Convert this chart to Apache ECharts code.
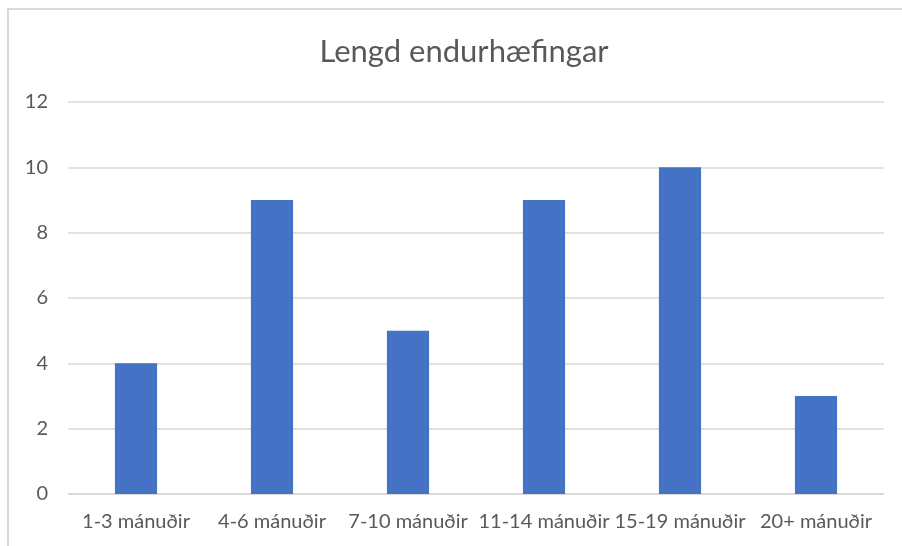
<!DOCTYPE html>
<html>
<head>
<meta charset="utf-8">
<script src="https://cdn.jsdelivr.net/npm/echarts@6/dist/echarts.min.js"></script>
<style>
  html, body { margin: 0; padding: 0; background: #fff; }
  #chart { width: 902px; height: 546px; }
</style>
</head>
<body>
<div id="chart"></div>
<script>
// gögn úr myndinni
var categories = ["1-3 mánuðir", "4-6 mánuðir", "7-10 mánuðir", "11-14 mánuðir", "15-19 mánuðir", "20+ mánuðir"];
var values = [4, 9, 5, 9, 10, 3];
var titleText = "Lengd endurhæfingar";

var chart = echarts.init(document.getElementById("chart"));
var font = "Lato, 'Open Sans', sans-serif";

chart.setOption({
  animation: false,
  // ytri rammi, nær út fyrir myndina til hægri og niður
  graphic: [{
    type: "rect",
    shape: { x: 8, y: 9, width: 1000, height: 600 },
    style: { fill: "none", stroke: "#d9d9d9", lineWidth: 2 },
    silent: true
  }],
  title: {
    text: titleText,
    left: 459,
    top: 31,
    textAlign: "center",
    textStyle: { color: "#595959", fontSize: 31, fontWeight: "normal", fontFamily: font }
  },
  grid: { left: 68, right: 18, top: 102, bottom: 52 },
  xAxis: {
    type: "category",
    data: categories,
    axisLine: { lineStyle: { color: "#d9d9d9", width: 1.5 } },
    axisTick: { show: false },
    axisLabel: { color: "#595959", fontSize: 20, fontFamily: font, margin: 18, interval: 0 }
  },
  yAxis: {
    type: "value",
    min: 0,
    max: 12,
    interval: 2,
    axisLine: { show: false },
    axisTick: { show: false },
    splitLine: { lineStyle: { color: "#d9d9d9", width: 1.5 } },
    axisLabel: { color: "#595959", fontSize: 20, fontFamily: font, margin: 20 }
  },
  series: [{
    type: "bar",
    data: values,
    barWidth: "31%",
    itemStyle: { color: "#4472c4" }
  }]
});
</script>
</body>
</html>
